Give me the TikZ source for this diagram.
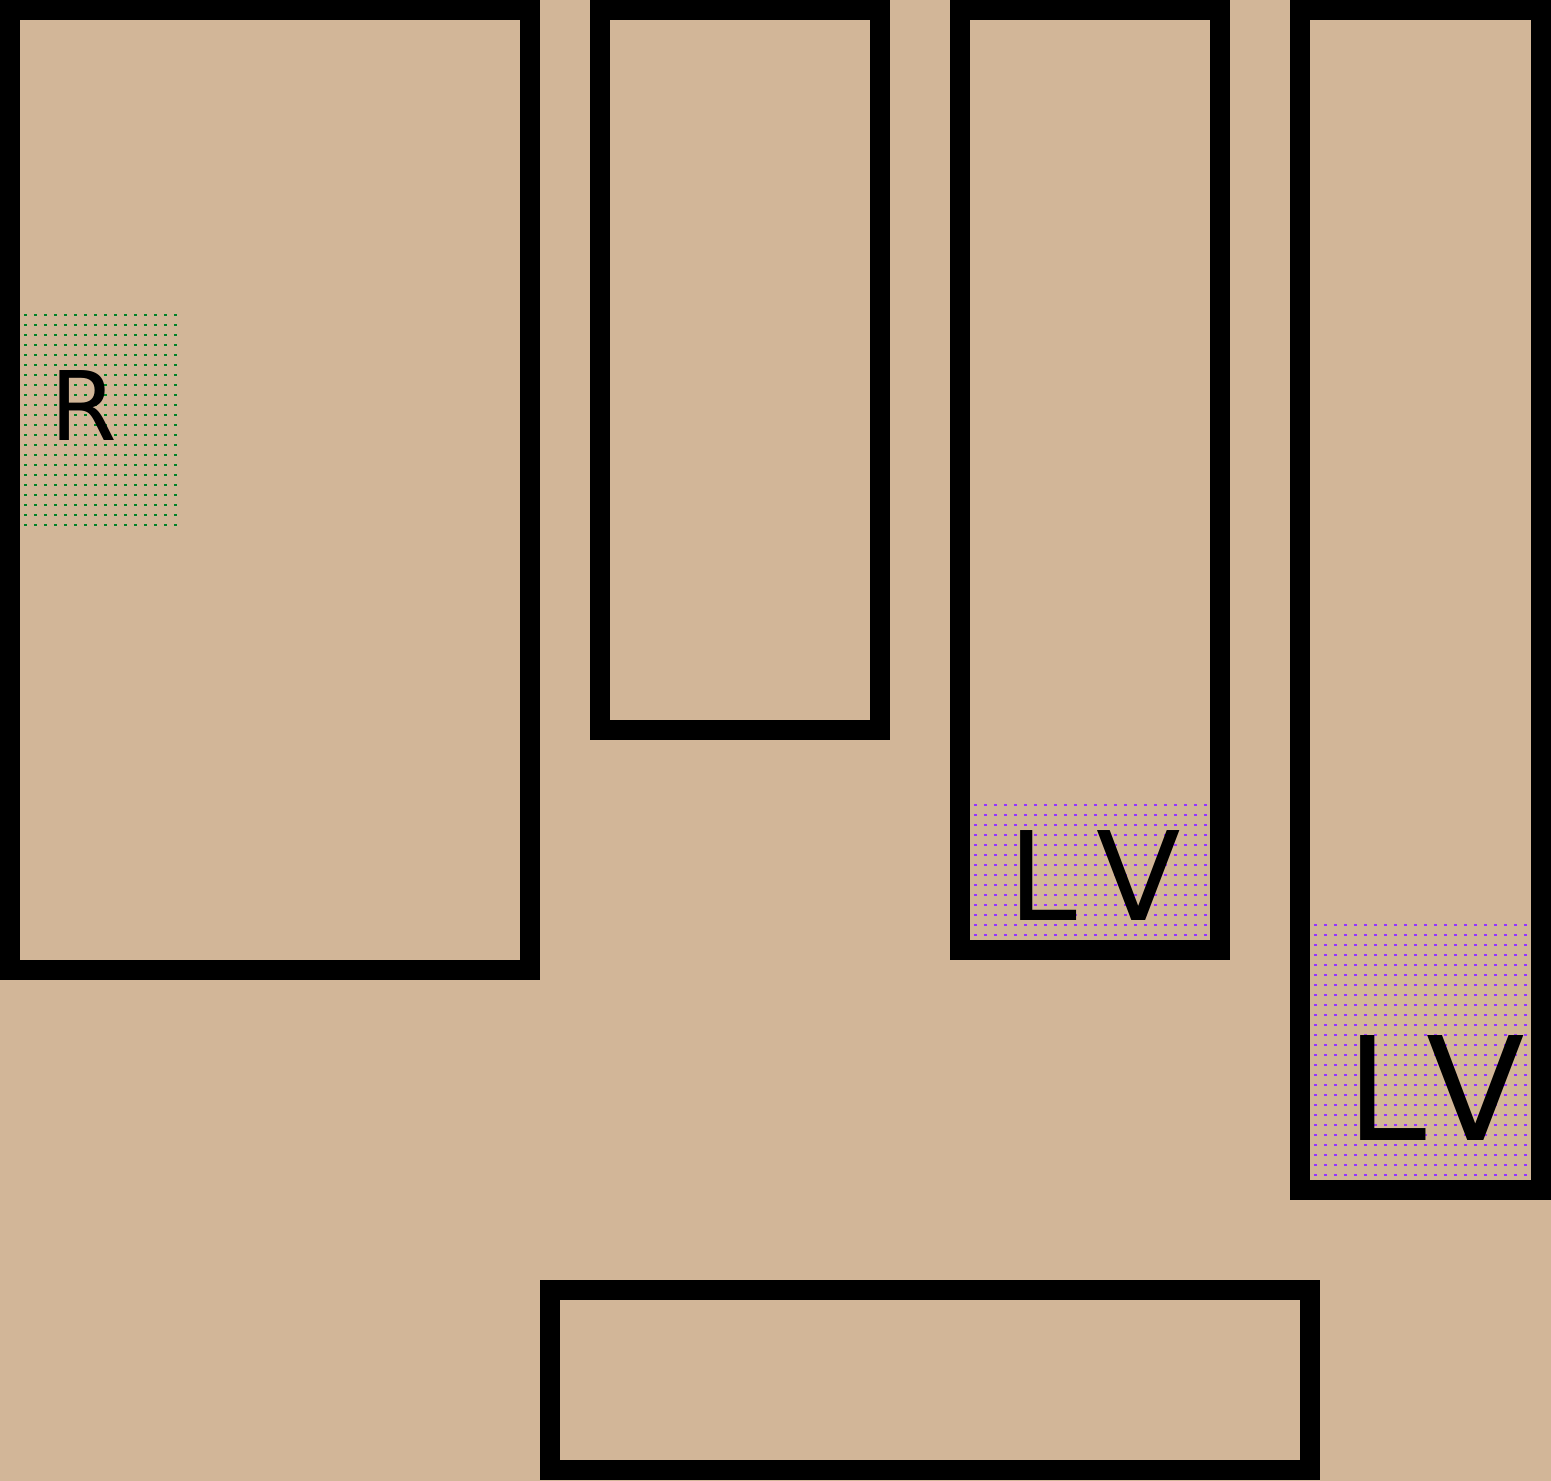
\documentclass[tikz,border=0pt]{standalone}
\usepackage{fontspec}
\newfontfamily\lblfont[Kerning=Off]{DejaVu Sans}
\definecolor{bgtan}{RGB}{210,182,152}
\definecolor{dotgreen}{RGB}{0,128,40}
\definecolor{dotpurple}{RGB}{150,50,255}
\tikzset{
  wallfill/.style={fill=black},
  roomfill/.style={fill=bgtan},
  lbl/.style={inner sep=0pt, outer sep=0pt, text=black, anchor=base west},
}
\newcommand\roomframe[4]{%
  \fill[wallfill] (#1,#2) rectangle (#3,#4);
  \fill[roomfill] (#1+20,#2+20) rectangle (#3-20,#4-20);}
\begin{document}
\begin{tikzpicture}[x=0.5pt,y=-0.5pt]
\fill[bgtan] (0,0) rectangle (1551,1481);
\useasboundingbox (0,0) rectangle (1551,1481);
% rooms
\roomframe{0}{0}{540}{980}
\roomframe{590}{0}{890}{740}
\roomframe{950}{0}{1230}{960}
\roomframe{1290}{0}{1551}{1200}
\roomframe{540}{1280}{1320}{1480}
% dot fields
\foreach \x in {25,35,...,175}{\foreach \y in {315,325,...,525}{
  \fill[dotgreen] (\x-1,\y-1) rectangle (\x+2,\y+1);}}
\foreach \x in {975,985,...,1205}{\foreach \y in {805,815,...,935}{
  \fill[dotpurple] (\x-1,\y-1) rectangle (\x+2,\y+1);}}
\foreach \x in {1315,1325,...,1525}{\foreach \y in {925,935,...,1175}{
  \fill[dotpurple] (\x-1,\y-1) rectangle (\x+2,\y+1);}}
% labels
\node[lbl] (labelR) at (50.6,440) {\fontsize{48pt}{48pt}\lblfont R};
\node[lbl] (labelLV1) at (1008,920) {\fontsize{61.7pt}{61.7pt}\lblfont L\kern 10pt V};
\node[lbl] (labelLV2) at (1346,1140) {\fontsize{72pt}{72pt}\lblfont L\kern 0pt V};
\end{tikzpicture}
\end{document}
